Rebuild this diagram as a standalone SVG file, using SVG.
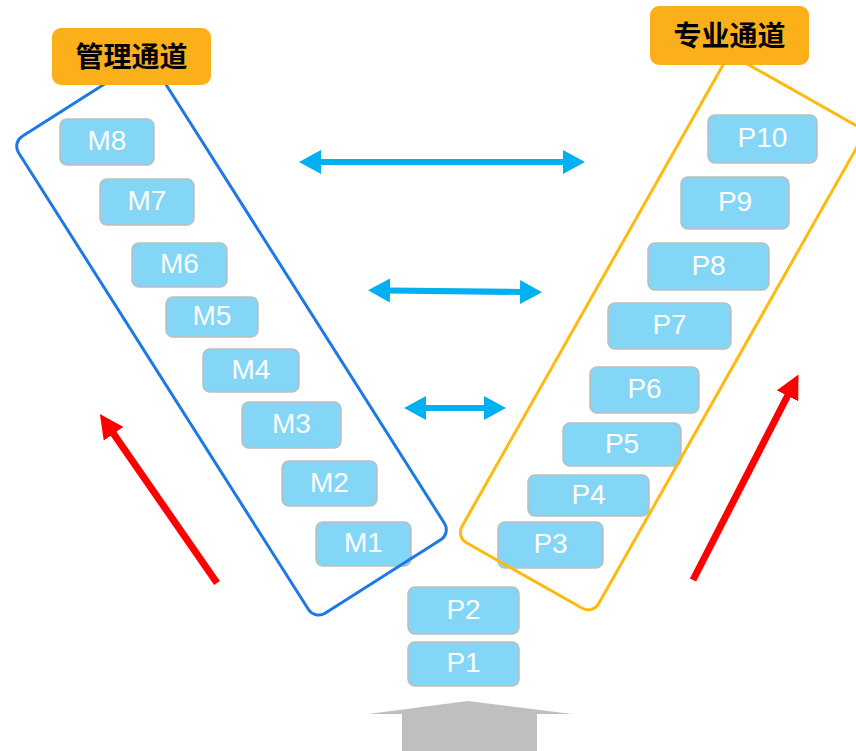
<svg xmlns="http://www.w3.org/2000/svg" width="856" height="751" viewBox="0 0 856 751">
<style>
.n rect{fill:#83D6F6;stroke:#BDBDBD;stroke-width:1.5}
.n text{fill:#FFFFFF;font-family:"Liberation Sans",Arial,sans-serif;font-size:28px;text-anchor:middle}
.lb rect{fill:#FBAF19}
.lb text{fill:#000;font-family:"Noto Sans CJK SC","Noto Sans",sans-serif;font-size:28px;font-weight:bold;text-anchor:middle}
.ba{stroke:#00B0F0;stroke-width:6;fill:none;marker-start:url(#bh);marker-end:url(#bh)}
.ra{stroke:#FF0000;stroke-width:7;fill:none;marker-end:url(#rh)}
</style>
<defs>
<marker id="bh" viewBox="0 0 22 24" markerWidth="22" markerHeight="24" refX="1" refY="12" orient="auto-start-reverse" markerUnits="userSpaceOnUse"><path d="M0,0 L22,12 L0,24 z" fill="#00B0F0"/></marker>
<marker id="rh" viewBox="0 0 24 24" markerWidth="24" markerHeight="24" refX="1" refY="12" orient="auto" markerUnits="userSpaceOnUse"><path d="M0,0 L24,12 L0,24 z" fill="#FF0000"/></marker>
</defs>
<rect width="856" height="751" fill="#FFFFFF"/>
<g id="nodes">
<g id="M8" class="n"><rect x="60" y="119" width="94" height="46" rx="7"/><text x="107" y="150">M8</text></g>
<g id="M7" class="n"><rect x="100" y="179" width="94" height="46" rx="7"/><text x="147" y="210">M7</text></g>
<g id="M6" class="n"><rect x="132" y="243" width="95" height="44" rx="7"/><text x="179.5" y="273">M6</text></g>
<g id="M5" class="n"><rect x="166" y="297" width="92" height="40" rx="7"/><text x="212" y="325">M5</text></g>
<g id="M4" class="n"><rect x="203" y="349" width="96" height="43" rx="7"/><text x="251" y="378.5">M4</text></g>
<g id="M3" class="n"><rect x="242" y="402" width="99" height="46" rx="7"/><text x="291.5" y="433">M3</text></g>
<g id="M2" class="n"><rect x="282" y="461" width="95" height="45" rx="7"/><text x="329.5" y="491.5">M2</text></g>
<g id="M1" class="n"><rect x="316" y="522" width="95" height="44" rx="7"/><text x="363.5" y="552">M1</text></g>
<g id="P10" class="n"><rect x="708" y="115" width="109" height="48" rx="7"/><text x="762.5" y="147">P10</text></g>
<g id="P9" class="n"><rect x="681" y="177" width="108" height="52" rx="7"/><text x="735" y="211">P9</text></g>
<g id="P8" class="n"><rect x="648" y="243" width="121" height="47" rx="7"/><text x="708.5" y="274.5">P8</text></g>
<g id="P7" class="n"><rect x="608" y="303" width="123" height="46" rx="7"/><text x="669.5" y="334">P7</text></g>
<g id="P6" class="n"><rect x="590" y="367" width="109" height="46" rx="7"/><text x="644.5" y="398">P6</text></g>
<g id="P5" class="n"><rect x="563" y="423" width="118" height="43" rx="7"/><text x="622" y="452.5">P5</text></g>
<g id="P4" class="n"><rect x="528" y="475" width="121" height="41" rx="7"/><text x="588.5" y="503.5">P4</text></g>
<g id="P3" class="n"><rect x="498" y="522" width="105" height="46" rx="7"/><text x="550.5" y="553">P3</text></g>
<g id="P2" class="n"><rect x="408" y="587" width="111" height="47" rx="7"/><text x="463.5" y="618.5">P2</text></g>
<g id="P1" class="n"><rect x="408" y="642" width="111" height="44" rx="7"/><text x="463.5" y="672">P1</text></g>
</g>
<g id="groups">
<rect id="mgmt-frame" x="-282.5" y="-80.5" width="565" height="161" rx="12" transform="translate(231.5 338) rotate(57.6)" fill="none" stroke="#1E78E6" stroke-width="3"/>
<rect id="prof-frame" x="-78.5" y="-277.5" width="157" height="555" rx="12" transform="translate(661 334) rotate(29.5)" fill="none" stroke="#FFB90F" stroke-width="3"/>
</g>
<g id="labels">
<g id="label-mgmt" class="lb"><rect x="52" y="28" width="159" height="57" rx="9"/><text x="131.5" y="66.5">管理通道</text></g>
<g id="label-prof" class="lb"><rect x="650" y="6" width="159" height="59" rx="9"/><text x="729.5" y="45.5">专业通道</text></g>
</g>
<g id="connectors">
<line class="ba" x1="320" y1="162" x2="564" y2="162"/>
<line class="ba" x1="389" y1="290.5" x2="521" y2="292"/>
<line class="ba" x1="425" y1="408" x2="485" y2="408"/>
<line class="ra" x1="217" y1="583" x2="113" y2="433"/>
<line class="ra" x1="693" y1="580" x2="788" y2="395"/>
<polygon id="base-arrow" points="368,714 468,701 572,714 537,714 537,751 402,751 402,714" fill="#BFBFBF"/>
</g>
</svg>
